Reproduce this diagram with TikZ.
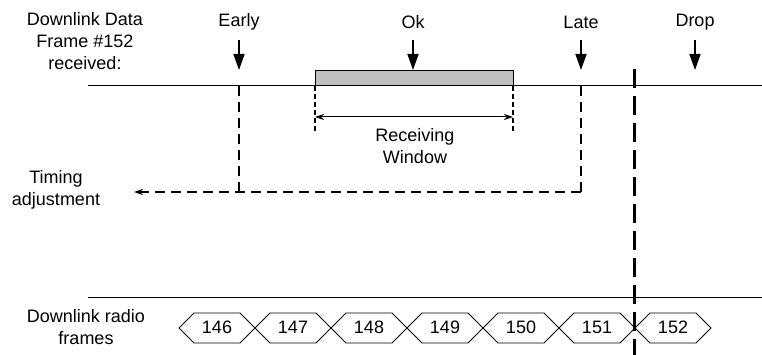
\documentclass[tikz,border=0pt]{standalone}
\usepackage{fontspec}
\setmainfont{Liberation Sans}
\usetikzlibrary{arrows.meta}
\begin{document}
\begin{tikzpicture}[x=1pt,y=-1pt,
  lbl/.style={font=\fontsize{18}{22}\selectfont,align=center,inner sep=0pt},
  thin/.style={line width=1pt},
  downarrow/.style={line width=1.6pt,-{Triangle[length=16pt,width=11pt]}},
  fbdash/.style={line width=1.4pt,dash pattern=on 10pt off 6pt},
  windash/.style={line width=1.2pt,dash pattern=on 5pt off 3pt},
  dropline/.style={line width=3pt,dash pattern=on 19pt off 8pt},
  smalltip/.style={-{Stealth[length=9pt,width=6pt]}},
  hex/.style={line width=0.9pt,line join=miter}]
\useasboundingbox (0,0) rectangle (762,355);
% labels
\node[lbl] (hdr) at (85,41) {Downlink Data\\Frame \#152\\received:};
\node[lbl] (early) at (239,22) {Early};
\node[lbl] (ok) at (413,22) {Ok};
\node[lbl] (late) at (581,22) {Late};
\node[lbl] (drop) at (695,22) {Drop};
\node[lbl] (rw) at (415,146) {Receiving\\Window};
\node[lbl] (timing) at (56,190) {Timing\\adjustment};
\node[lbl] (radio) at (86,327) {Downlink radio\\frames};
% coordinates
\coordinate (tl) at (88,86); \coordinate (tr) at (762,86);
\coordinate (bl) at (88,297); \coordinate (br) at (762,297);
\foreach \n/\x in {e/239,o/413,l/581,d/695}{
  \coordinate (\n s) at (\x,40);
  \coordinate (\n t) at (\x,70);
}
\coordinate (ebot) at (239,192);
\coordinate (etop) at (239,86);
\coordinate (ltop) at (581,86);
\coordinate (lbot) at (581,192);
\coordinate (tadj) at (134,192);
\coordinate (w1t) at (315,86); \coordinate (w1b) at (315,133);
\coordinate (w2t) at (513,86); \coordinate (w2b) at (513,133);
\coordinate (w1m) at (315,117); \coordinate (w2m) at (513,117);
\coordinate (dtop) at (634,69); \coordinate (dbot) at (634,356);
% window box
\draw[thin,fill=black!25] (315,71) rectangle (513,86);
% time lines
\draw[thin] (tl) -- (tr);
\draw[thin] (bl) -- (br);
% down arrows
\foreach \n in {e,o,l,d}{ \draw[downarrow] (\n s) -- (\n t); }
% timing adjustment dashed path
\draw[fbdash] (etop) -- (ebot);
\draw[fbdash] (ltop) -- (lbot);
\draw[fbdash,smalltip] (lbot) -- (tadj);
% receiving window
\draw[windash] (w1t) -- (w1b);
\draw[windash] (w2t) -- (w2b);
\draw[thin,{Stealth[length=9pt,width=6pt]}-{Stealth[length=9pt,width=6pt]}] (w1m) -- (w2m);
% radio frames
\foreach \k/\num in {0/146,1/147,2/148,3/149,4/150,5/151,6/152}{
  \pgfmathsetmacro{\L}{179+76*\k}
  \draw[hex] (\L,328) -- (\L+15,313) -- (\L+61,313) -- (\L+76,328) -- (\L+61,343) -- (\L+15,343) -- cycle;
  \node[lbl] (f\num) at (\L+38,327) {\num};
}
% drop line
\draw[dropline] (dtop) -- (dbot);
\end{tikzpicture}
\end{document}
